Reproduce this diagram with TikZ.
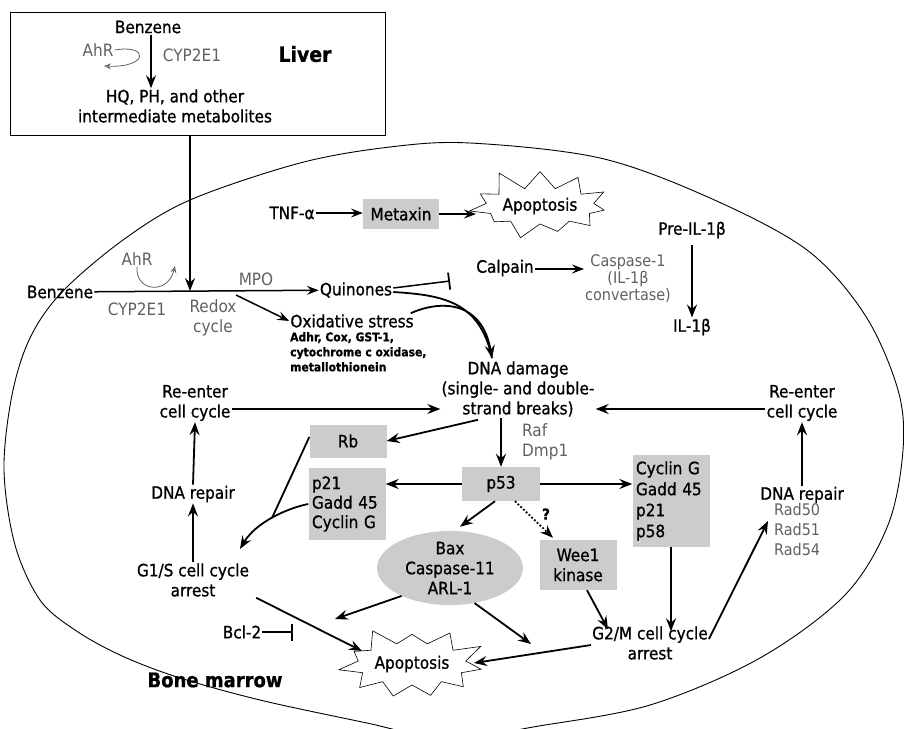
\documentclass[tikz,border=0pt]{standalone}
\usepackage{fontspec}
\setmainfont{DejaVu Sans Condensed}[FakeBold=0.9]
\newfontfamily\lightf{DejaVu Sans Condensed}
\usetikzlibrary{arrows.meta,shapes.geometric,shapes.symbols}
\begin{document}
\begin{tikzpicture}[x=1pt,y=-1pt,
  every node/.style={font=\fontsize{17}{20}\selectfont, inner sep=1pt},
  gtxt/.style={text=black!62, font=\lightf\fontsize{17}{20}\selectfont},
  gbox/.style={fill=black!20, minimum width=77pt, inner sep=3pt},
  smallb/.style={font=\bfseries\fontsize{12}{15}\selectfont},
  arr/.style={line width=1.8pt, -{Stealth[length=13pt,width=10pt,inset=4.5pt,fill=black!55]}},
  tarr/.style={line width=1.5pt, -{Stealth[length=12pt,width=9pt,inset=4.5pt,fill=black!55]}},
  garr/.style={line width=0.8pt, black!62, -{Stealth[length=7pt,width=6pt,inset=2.5pt,open]}},
  inh/.style={line width=1.5pt, -{Bar[width=17pt,line width=1.8pt]}},
  burst/.style={starburst, draw, fill=white, starburst points=11, starburst point height=22pt, minimum width=130pt, minimum height=80pt, inner sep=1pt, line width=0.6pt},
]
\useasboundingbox (0,0) rectangle (904,728);

% bone marrow outline
\begin{scope}
\clip (0,0) rectangle (904,728);
\draw[line width=0.9pt] plot[smooth cycle, tension=0.55] coordinates {
 (470,143) (600,158) (710,198) (807,250) (865,315) (898,390) (903,450)
 (888,525) (845,595) (760,658) (650,705) (533,727) (450,740) (367,723)
 (260,700) (177,677) (120,655) (75,630) (40,600) (15,545) (4,470)
 (12,395) (30,338) (62,292) (123,240) (190,200) (300,163) (390,147)};
\end{scope}

% ---------------- Liver ----------------
\node[draw, line width=1.1pt, minimum width=375pt, minimum height=123pt, anchor=north west, inner sep=0pt] (liver) at (10,12) {};
\node (lbenz) at (148,27) {Benzene};
\node[gtxt] (lahr) at (98,50) {AhR};
\node[gtxt] (lcyp) at (192,55) {CYP2E1};
\node[font=\bfseries\fontsize{21}{24}\selectfont] (liverlbl) at (305,54) {Liver};
\node[align=center] (hq) at (175,106) {HQ, PH, and other\\intermediate metabolites};
\draw[arr] ([xshift=3pt]lbenz.south) -- ([xshift=3pt]lbenz.south |- hq.north);
\coordinate (lahrend) at (104,66);
\draw[garr] (lahr.east) .. controls (150,44) and (148,68) .. (lahrend);

% ---------------- benzene line ----------------
\coordinate (redox) at (190,291);
\draw[arr] (redox |- liver.south) -- (redox);
\node (bmbenz) at (60,292) {Benzene};
\node (quin) at (356,290) {Quinones};
\draw[tarr] (bmbenz) -- (quin);
\node[gtxt] (ahr2) at (137,259) {AhR};
\coordinate (ahrend) at (175,266);
\draw[garr] (ahr2.south) .. controls (135,292) and (168,295) .. (ahrend);
\node[gtxt] (cyp2) at (137,309) {CYP2E1};
\node[gtxt, align=center] (redoxlbl) at (213,318) {Redox\\cycle};
\node[gtxt] (mpo) at (256,279) {MPO};
\node (oxs) at (352,321) {Oxidative stress};
\node[smallb, anchor=north west, align=left] (oxsub) at (289,331) {Adhr, Cox, GST-1,\\cytochrome c oxidase,\\metallothionein};
\coordinate (oxstart) at (236,295);
\draw[tarr] (oxstart) -- (oxs.west);
\coordinate (qbar) at (450,281);
\draw[inh] ([yshift=2pt]quin.east) -- (qbar);

% ---------------- DNA damage ----------------
\node[align=center] (dna) at (518,389) {DNA damage\\(single- and double-\\strand breaks)};
\draw[line width=1.8pt] ([yshift=-2pt]quin.east) .. controls (440,295) and (480,300) .. ([xshift=-26pt,yshift=2pt]dna.north);
\draw[arr] ([xshift=-4pt]oxs.north east) .. controls (440,300) and (482,300) .. ([xshift=-26pt,yshift=2pt]dna.north);

% ---------------- top row ----------------
\node (tnf) at (292,213) {TNF-α};
\node[gbox, minimum width=76pt, minimum height=30pt] (metax) at (401,214) {Metaxin};
\node[burst, random starburst=11] (apo1) at (540,206) {Apoptosis};
\coordinate (apo1w) at (476,214);
\draw[tarr] (tnf.east) -- (tnf.east -| metax.west);
\draw[tarr] (metax.east) -- (apo1w);
\node (calp) at (505,268) {Calpain};
\node[gtxt, align=center, font=\lightf\fontsize{16}{17}\selectfont] (casp) at (628,279) {Caspase-1\\(IL-1β\\convertase)};
\draw[tarr] ([yshift=-1pt]calp.east) -- ([yshift=-1pt]calp.east -| casp.west);
\node (pre) at (692,230) {Pre-IL-1β};
\node (il) at (692,327) {IL-1β};
\draw[arr] ([yshift=-6pt]pre.south) -- (il.north);

% ---------------- left column ----------------
\node[align=center] (rel) at (195,403) {Re-enter\\cell cycle};
\node (drl) at (193,494) {DNA repair};
\node[align=center] (g1s) at (193,580) {G1/S cell cycle\\arrest};
\draw[arr] ([yshift=-6pt]rel.east) -- ([yshift=-6pt]rel.east -| dna.west);
\draw[arr] (g1s.north) -- (drl.south);
\draw[arr] (drl.north) -- (rel.south);

% ---------------- p53 area ----------------
\node[gbox, minimum height=33pt] (rb) at (348,441) {Rb};
\node[gbox, minimum height=72pt, text width=70pt, align=left, font=\fontsize{17}{19.5}\selectfont] (p21) at (347,504) {p21\\Gadd 45\\Cyclin G};
\node[gbox, minimum width=78pt, minimum height=34pt] (p53) at (501,484) {p53};
\node[gtxt, anchor=west, align=left] (raf) at (521,442) {Raf\\Dmp1};
\node[gbox, minimum height=92pt, text width=70pt, align=left, font=\fontsize{17}{21}\selectfont] (cyc) at (671,501) {Cyclin G\\Gadd 45\\p21\\p58};
\node[gbox, minimum height=50pt, align=center] (wee) at (578,565) {Wee1\\kinase};
\node[ellipse, fill=black!20, minimum width=146pt, minimum height=64pt, align=center, inner sep=0pt] (bax) at (450,568) {Bax\\Caspase-11\\ARL-1};
\node[font=\bfseries\fontsize{15}{18}\selectfont] (qm) at (546,514) {?};

\draw[arr] ([xshift=-40pt,yshift=-2pt]dna.south) -- (rb.east);
\draw[arr] (p53.north |- dna.south) -- (p53.north);
\draw[arr] (p53.west) -- (p53.west -| p21.east);
\draw[arr] (p53.east) -- (p53.east -| cyc.west);
\draw[arr] ([xshift=-6pt]p53.south) -- ([xshift=10pt,yshift=4pt]bax.north);
\draw[arr, dotted] ([xshift=14pt]p53.south) -- ([xshift=-25pt,yshift=2pt]wee.north);

\coordinate (join) at (272,518);
\coordinate (g1sin) at (240,549);
\draw[line width=1.8pt] ([yshift=4pt]rb.west) -- (join);
\draw[arr] (p21.west) .. controls (288,508) and (256,522) .. (g1sin);

% ---------------- bottom ----------------
\node[align=center] (g2m) at (650,643) {G2/M cell cycle\\arrest};
\node[burst, random starburst=29, minimum width=136pt, minimum height=86pt] (apo2) at (412,664) {Apoptosis};
\node (bcl) at (242,632) {Bcl-2};
\node[font=\bfseries\fontsize{20}{24}\selectfont] (bm) at (215,680) {Bone marrow};

\coordinate (baxl) at (335,619);
\coordinate (baxr) at (531,644);
\coordinate (apo2nw) at (362,651);
\coordinate (apo2e) at (474,663);
\coordinate (bclend) at (293,632);
\draw[arr] (bax.210) -- (baxl);
\draw[arr] (bax.-55) -- (baxr);
\draw[arr] ([xshift=6pt]g1s.south east) -- (apo2nw);
\draw[inh] (bcl.east) -- (bclend);
\draw[arr] ([xshift=9pt]wee.south) -- ([xshift=-42pt,yshift=-4pt]g2m.north);
\draw[arr] (cyc.south) -- ([yshift=-6pt]cyc.south |- g2m.north);
\draw[arr] ([yshift=-2pt]g2m.west) -- (apo2e);

% ---------------- right column ----------------
\node[align=center] (rer) at (802,403) {Re-enter\\cell cycle};
\node (drr) at (802,495) {DNA repair};
\node[gtxt, anchor=north west, align=left, font=\lightf\fontsize{16}{20}\selectfont] (rad) at (773,502) {Rad50\\Rad51\\Rad54};
\coordinate (drrin) at (768,521);
\draw[arr] ([yshift=4pt]g2m.east) -- (drrin);
\draw[arr] (drr.north) -- (rer.south);
\draw[arr] ([yshift=-6pt]rer.west) -- ([yshift=-6pt]rer.west -| dna.east);
\end{tikzpicture}
\end{document}
